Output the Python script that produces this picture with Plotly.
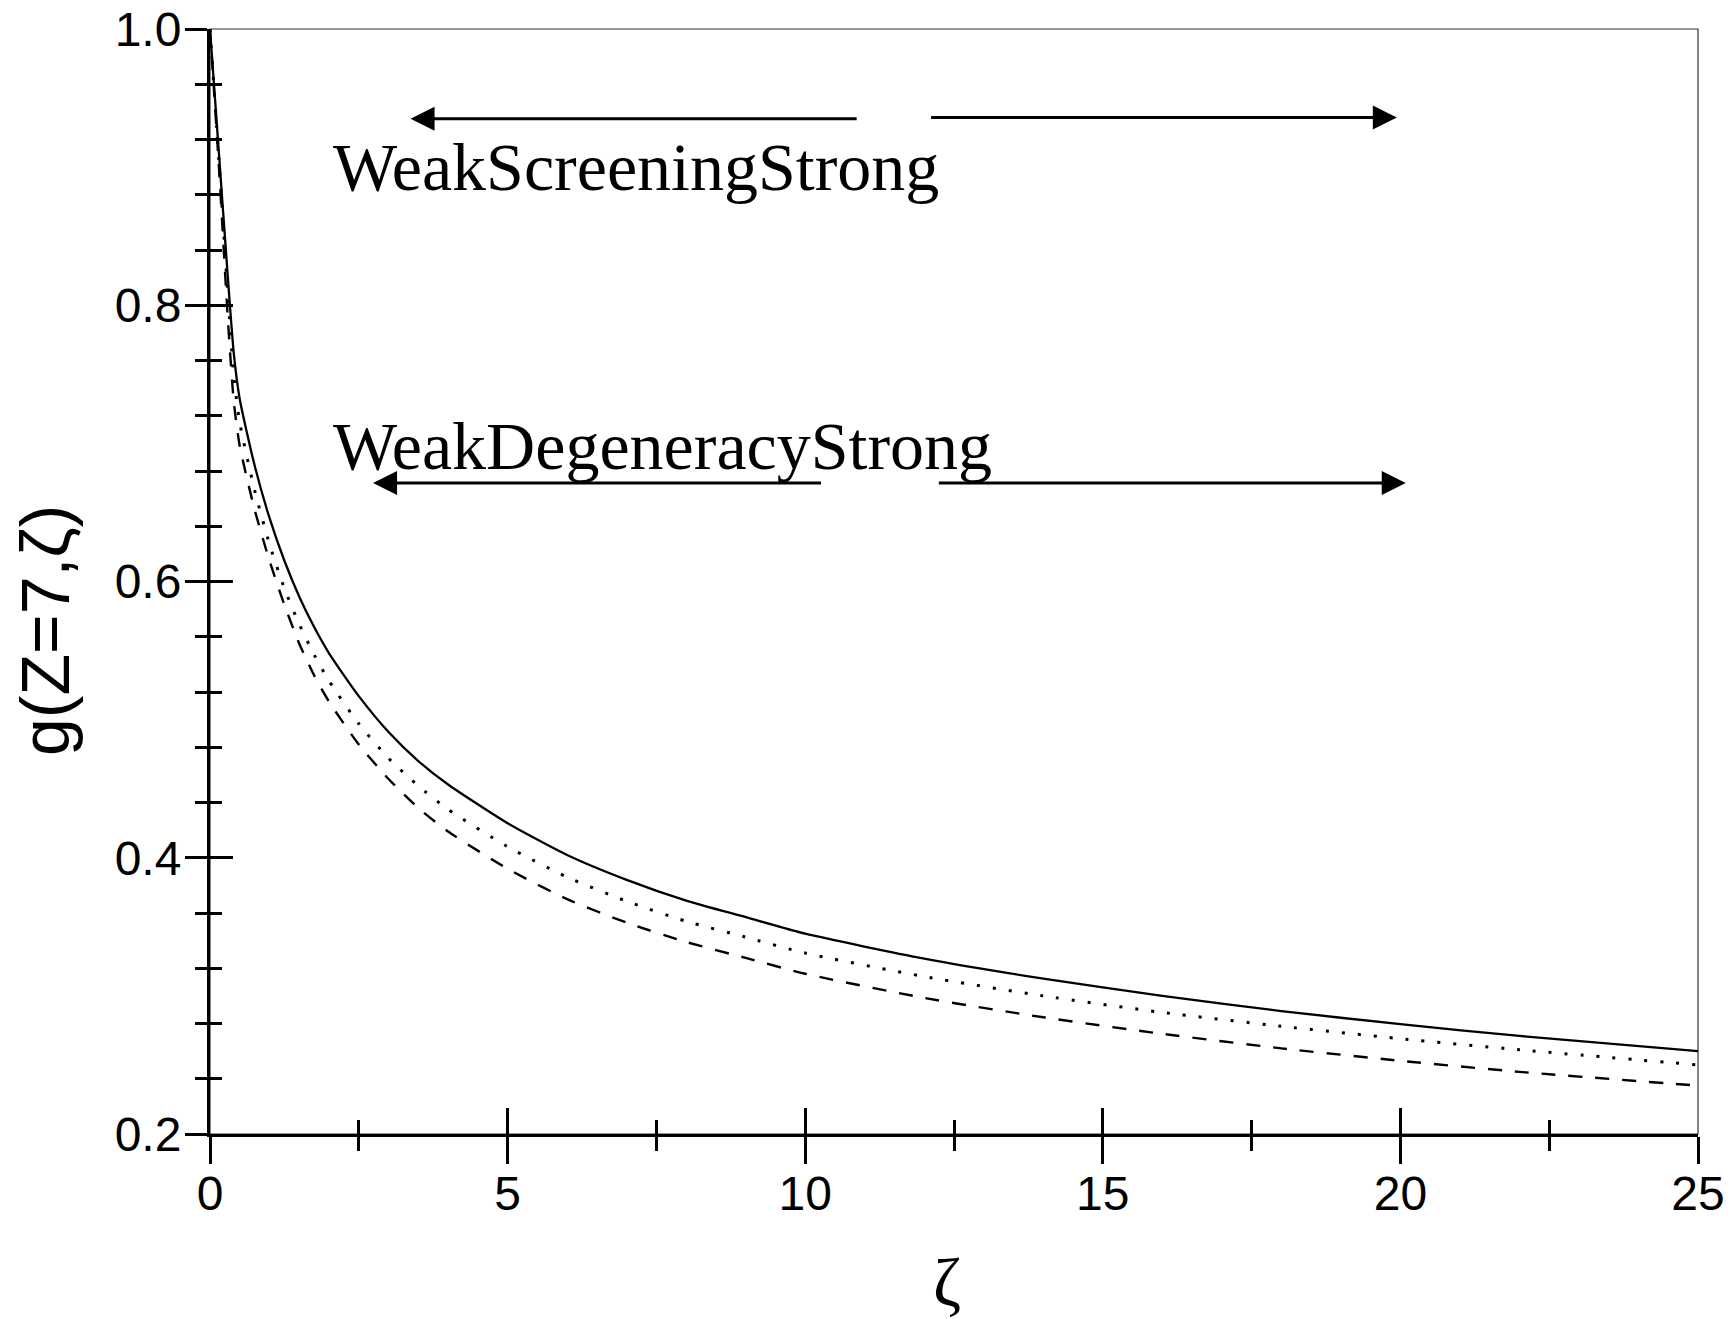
import plotly.graph_objects as go

# ---- data ----
zeta = [0, 0.15, 0.3, 0.4, 0.5, 0.75, 1.0, 1.25, 1.5, 1.75, 2.0, 2.5, 3.0, 3.5, 4.0,
        5, 6, 7, 8, 9, 10, 12, 14, 16, 18, 20, 22, 25]
g_solid = [1.0, 0.91, 0.82, 0.765, 0.732, 0.684, 0.646, 0.615, 0.589, 0.567, 0.548, 0.517,
           0.491, 0.470, 0.453, 0.425, 0.402, 0.384, 0.369, 0.357, 0.345, 0.327, 0.3125,
           0.300, 0.289, 0.2795, 0.271, 0.260]
g_dotted = [1.0, 0.905, 0.808, 0.749, 0.715, 0.666, 0.627, 0.595, 0.569, 0.547, 0.528, 0.497,
            0.472, 0.452, 0.435, 0.408, 0.386, 0.3685, 0.354, 0.3425, 0.331, 0.314, 0.300,
            0.288, 0.278, 0.269, 0.261, 0.250]
g_dashed = [1.0, 0.90, 0.79, 0.73, 0.698, 0.652, 0.615, 0.583, 0.555, 0.532, 0.513, 0.482,
            0.457, 0.436, 0.419, 0.392, 0.370, 0.353, 0.339, 0.3275, 0.316, 0.2985, 0.2845,
            0.2725, 0.262, 0.253, 0.245, 0.235]

x_ticks = [0, 5, 10, 15, 20, 25]
y_ticks = [0.2, 0.4, 0.6, 0.8, 1.0]

labels = ["WeakScreeningStrong", "WeakDegeneracyStrong"]
label_x = [2.03, 2.03]
label_y = [0.900, 0.698]

# arrows: tip x, tail x, y
arrow_tip_x = [3.37, 19.94, 2.74, 20.09]
arrow_tail_x = [10.89, 12.09, 10.29, 12.22]
arrow_y = [0.935, 0.936, 0.6714, 0.6714]

SERIF = "Times New Roman, Liberation Serif, serif"
SANS = "Arial, Liberation Sans, sans-serif"

fig = go.Figure()
fig.add_trace(go.Scatter(x=zeta, y=g_solid, mode="lines",
                         line=dict(color="black", width=2.3, shape="spline", smoothing=0.6),
                         showlegend=False))
fig.add_trace(go.Scatter(x=zeta, y=g_dotted, mode="lines",
                         line=dict(color="black", width=3, dash="3px,13px", shape="spline",
                                   smoothing=0.6), showlegend=False))
fig.add_trace(go.Scatter(x=zeta, y=g_dashed, mode="lines",
                         line=dict(color="black", width=2.4, dash="14px,13px", shape="spline",
                                   smoothing=0.6), showlegend=False))
# empty trace to host the overlay axes (inside half of crossing ticks)
fig.add_trace(go.Scatter(x=[], y=[], xaxis="x2", yaxis="y2", showlegend=False, hoverinfo="skip"))

common_tick = dict(tickcolor="black", tickwidth=2.5)

fig.update_layout(
    width=1731, height=1319,
    margin=dict(l=210, r=33, t=29, b=185, autoexpand=False),
    paper_bgcolor="white", plot_bgcolor="white",
    xaxis=dict(range=[0, 25], tickvals=x_ticks, ticktext=[str(v) for v in x_ticks],
               automargin=False, showgrid=False, zeroline=False, showline=True,
               linecolor="black", linewidth=3,
               ticks="outside", ticklen=27, ticklabelstandoff=-12, **common_tick,
               minor=dict(ticks="outside", ticklen=14, dtick=2.5, tick0=0, tickcolor="black",
                          tickwidth=2.5, showgrid=False),
               tickfont=dict(family=SANS, size=48, color="black"), fixedrange=True),
    yaxis=dict(range=[0.2, 1.0], tickvals=y_ticks, ticktext=[f"{v:.1f}" for v in y_ticks],
               automargin=False, showgrid=False, zeroline=False, showline=True,
               linecolor="black", linewidth=3,
               ticks="outside", ticklen=22, ticklabelstandoff=-6, **common_tick,
               minor=dict(ticks="outside", ticklen=12, dtick=0.04, tick0=0.2, tickcolor="black",
                          tickwidth=2.5, showgrid=False),
               tickfont=dict(family=SANS, size=48, color="black"), fixedrange=True),
    xaxis2=dict(range=[0, 25], overlaying="x", anchor="y2", side="bottom", automargin=False,
                tickvals=x_ticks, showticklabels=False, showgrid=False, zeroline=False,
                showline=False, ticks="inside", ticklen=26, **common_tick,
                minor=dict(ticks="inside", ticklen=14, dtick=2.5, tick0=0, tickcolor="black",
                           tickwidth=2.5, showgrid=False), fixedrange=True),
    yaxis2=dict(range=[0.2, 1.0], overlaying="y", anchor="x2", side="left", automargin=False,
                tickvals=y_ticks, showticklabels=False, showgrid=False, zeroline=False,
                showline=False, ticks="inside", ticklen=23, **common_tick,
                minor=dict(ticks="inside", ticklen=12, dtick=0.04, tick0=0.2, tickcolor="black",
                           tickwidth=2.5, showgrid=False), fixedrange=True),
    shapes=[dict(type="rect", xref="paper", yref="paper", x0=0, x1=1, y0=0, y1=1,
                 line=dict(color="#333333", width=1.2), layer="below")],
)

annotations = []
for t, lx, ly in zip(labels, label_x, label_y):
    annotations.append(dict(x=lx, y=ly, xref="x", yref="y", text=t, showarrow=False,
                            xanchor="left", yanchor="middle",
                            font=dict(family=SERIF, size=68, color="black")))
for tx, sx, ay in zip(arrow_tip_x, arrow_tail_x, arrow_y):
    annotations.append(dict(x=tx, y=ay, ax=sx, ay=ay, xref="x", yref="y", axref="x", ayref="y",
                            text="", showarrow=True, arrowhead=2, arrowsize=1.6,
                            arrowwidth=3, arrowcolor="black", standoff=0, startstandoff=0))
annotations.append(dict(x=-0.111, y=0.456, xref="paper", yref="paper", text="g(Z=7,ζ)",
                        textangle=-90, showarrow=False, xanchor="center", yanchor="middle",
                        font=dict(family=SANS, size=68, color="black")))
annotations.append(dict(x=0.495, y=-0.134, xref="paper", yref="paper", text="ζ",
                        showarrow=False, xanchor="center", yanchor="middle",
                        font=dict(family=SERIF, size=68, color="black")))
fig.update_layout(annotations=annotations)

fig.write_html("out.html", config={"displayModeBar": False},
               post_script="document.body.style.margin='0';")
